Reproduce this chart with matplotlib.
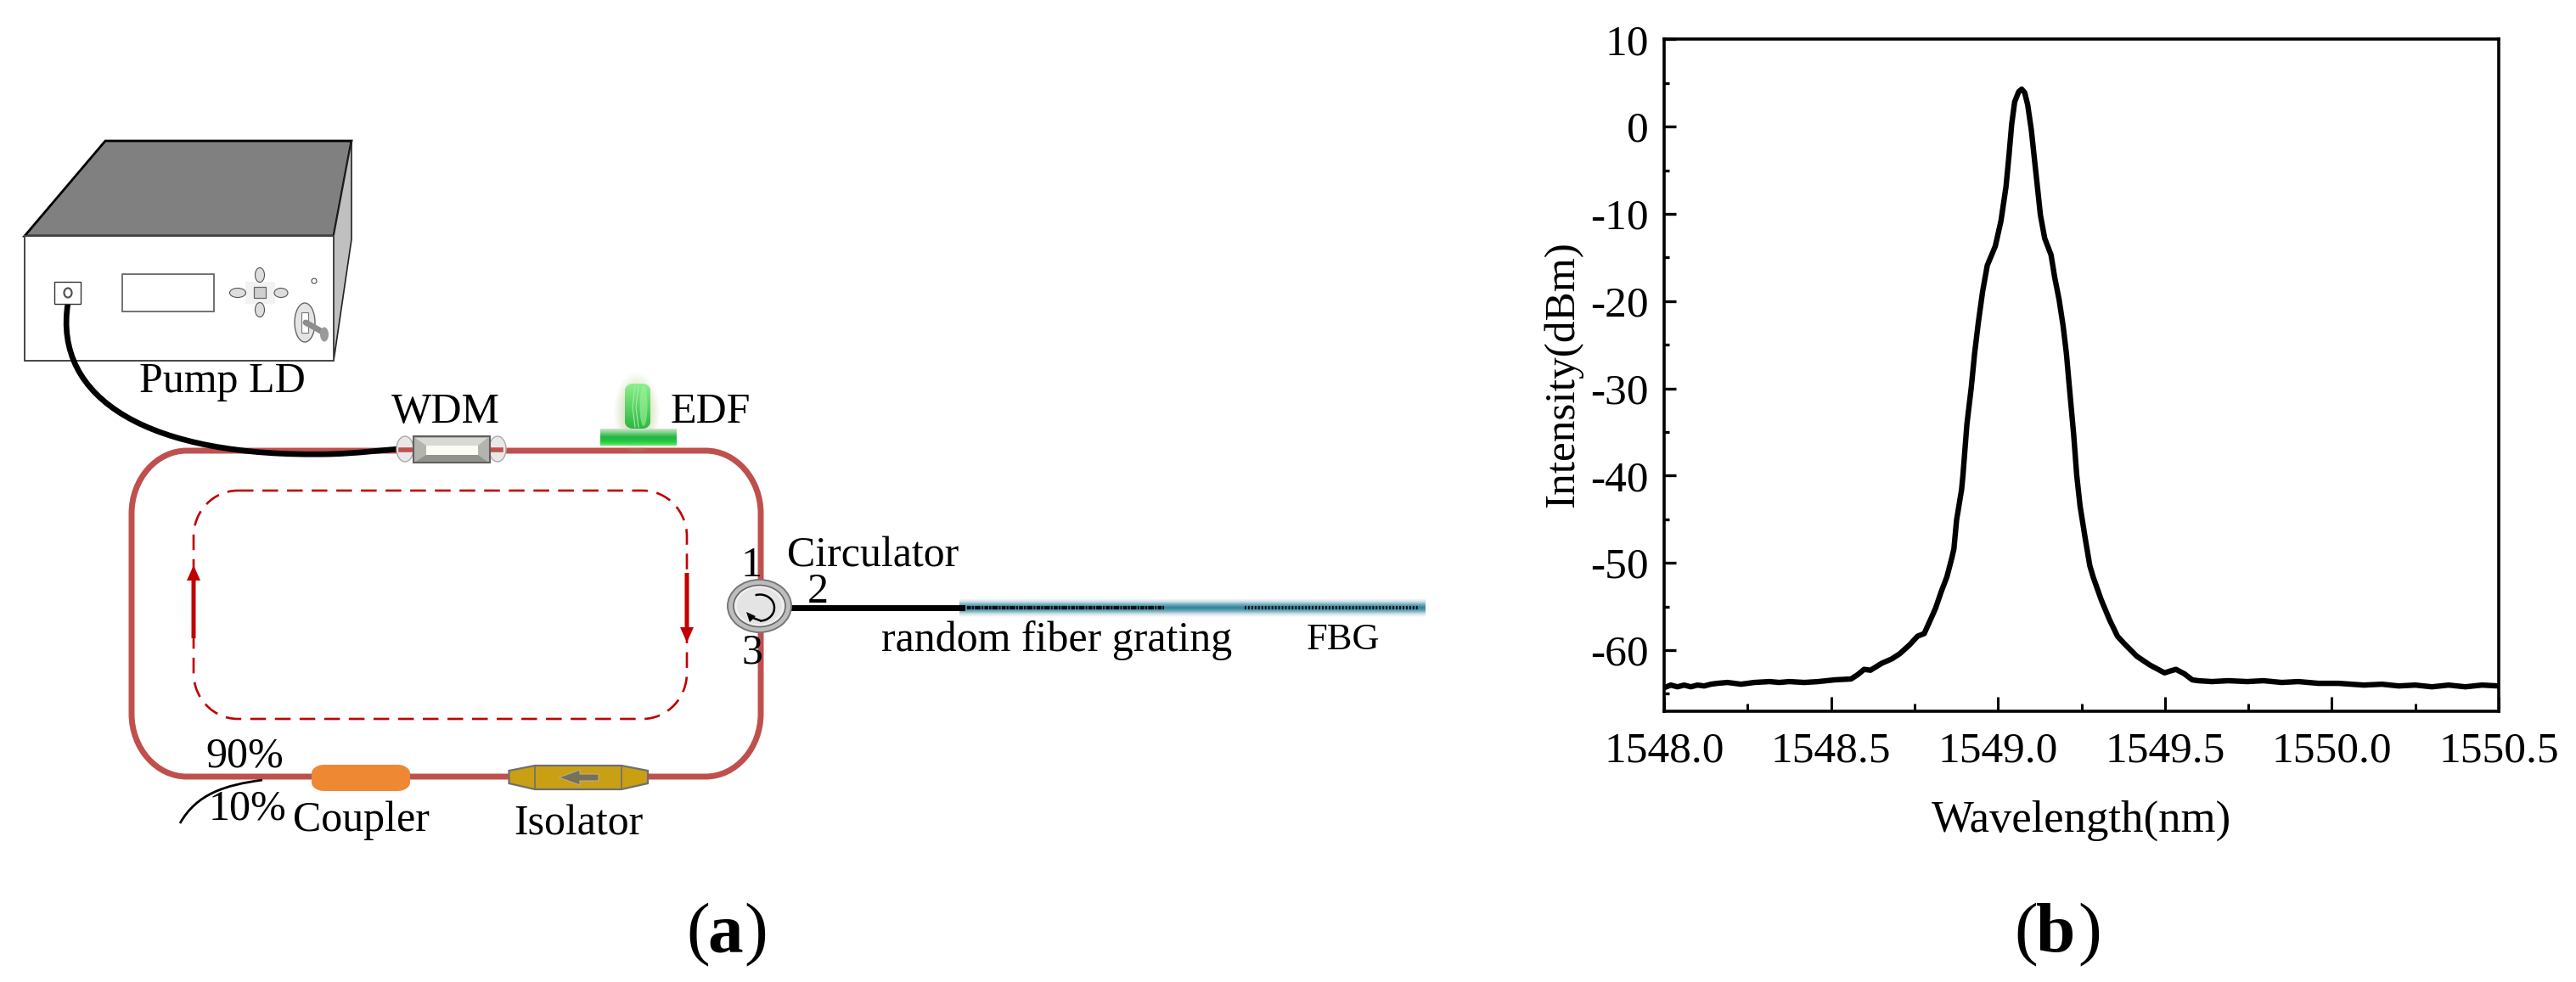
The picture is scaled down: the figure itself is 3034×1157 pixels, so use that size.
import numpy as np
import matplotlib
matplotlib.use("Agg")
import matplotlib.pyplot as plt
import matplotlib.patches as patches
from matplotlib.path import Path
from matplotlib.colors import LinearSegmentedColormap, to_rgb

plt.rcParams['font.family'] = ['Liberation Serif', 'DejaVu Serif']
plt.rcParams['axes.unicode_minus'] = False

W, H = 3034, 1157

# spectrum
wavelength = [1548.00, 1548.02, 1548.04, 1548.06, 1548.08, 1548.10, 1548.12, 1548.14, 1548.16, 1548.19,
              1548.23, 1548.27, 1548.316, 1548.345, 1548.375, 1548.42, 1548.462, 1548.511, 1548.56,
              1548.58, 1548.599, 1548.618, 1548.652, 1548.682, 1548.706, 1548.735, 1548.759, 1548.779,
              1548.798, 1548.813, 1548.83, 1548.847, 1548.862, 1548.868, 1548.876, 1548.891, 1548.895,
              1548.907, 1548.92, 1548.93, 1548.941, 1548.954, 1548.968, 1548.992, 1549.009, 1549.024,
              1549.033, 1549.041, 1549.05, 1549.062, 1549.071, 1549.08, 1549.089, 1549.10, 1549.11,
              1549.119, 1549.127, 1549.14, 1549.159, 1549.17, 1549.183, 1549.195, 1549.205, 1549.214,
              1549.227, 1549.236, 1549.246, 1549.261, 1549.275, 1549.285, 1549.309, 1549.334, 1549.358,
              1549.377, 1549.416, 1549.455, 1549.499, 1549.515, 1549.533, 1549.558, 1549.582, 1549.60,
              1549.641, 1549.69, 1549.747, 1549.795, 1549.85, 1549.90, 1549.96, 1550.02, 1550.096,
              1550.15, 1550.20, 1550.25, 1550.30, 1550.35, 1550.40, 1550.45, 1550.50]
intensity = [-64.3, -64.0, -64.2, -64.0, -64.2, -64.0, -64.1, -63.9, -63.8, -63.7,
             -63.9, -63.7, -63.6, -63.7, -63.6, -63.7, -63.6, -63.4, -63.3,
             -62.8, -62.2, -62.3, -61.5, -61.0, -60.4, -59.4, -58.4, -58.1,
             -56.5, -55.2, -53.3, -51.6, -49.4, -48.4, -45.1, -41.6, -40.0,
             -34.1, -29.9, -26.0, -22.5, -18.9, -15.9, -13.7, -10.8, -6.9,
             -3.3, 0.24, 2.84, 4.0, 4.3, 3.9, 2.5, -0.4, -4.0,
             -7.2, -10.1, -12.8, -14.7, -17.3, -19.8, -22.8, -26.0, -29.9,
             -35.4, -40.0, -43.5, -47.1, -50.3, -51.6, -54.2, -56.5, -58.4,
             -59.2, -60.7, -61.7, -62.6, -62.4, -62.2, -62.7, -63.4, -63.5,
             -63.6, -63.5, -63.6, -63.5, -63.7, -63.6, -63.8, -63.8, -64.0,
             -63.9, -64.1, -64.0, -64.2, -64.0, -64.2, -64.0, -64.1]

x_major = [1548.0, 1548.5, 1549.0, 1549.5, 1550.0, 1550.5]
x_labels = ['1548.0', '1548.5', '1549.0', '1549.5', '1550.0', '1550.5']
x_minor = [1548.25, 1548.75, 1549.25, 1549.75, 1550.25]
y_major = [-60, -50, -40, -30, -20, -10, 0, 10]
y_minor = [-65, -55, -45, -35, -25, -15, -5, 5]

RING = '#c0504d'
FLOW = '#c00000'


def rounded_path(x0, y0, x1, y1, rx, ry, k=0.55):
    verts = [(x0 + rx, y0), (x1 - rx, y0),
             (x1 - rx + k * rx, y0), (x1, y0 + ry - k * ry), (x1, y0 + ry),
             (x1, y1 - ry),
             (x1, y1 - ry + k * ry), (x1 - rx + k * rx, y1), (x1 - rx, y1),
             (x0 + rx, y1),
             (x0 + rx - k * rx, y1), (x0, y1 - ry + k * ry), (x0, y1 - ry),
             (x0, y0 + ry),
             (x0, y0 + ry - k * ry), (x0 + rx - k * rx, y0), (x0 + rx, y0)]
    codes = [Path.MOVETO, Path.LINETO,
             Path.CURVE4, Path.CURVE4, Path.CURVE4,
             Path.LINETO,
             Path.CURVE4, Path.CURVE4, Path.CURVE4,
             Path.LINETO,
             Path.CURVE4, Path.CURVE4, Path.CURVE4,
             Path.LINETO,
             Path.CURVE4, Path.CURVE4, Path.CURVE4]
    return Path(verts, codes)


def gradient(ax, x0, x1, y0, y1, colors, vertical=True, z=3, clip=None):
    cm = LinearSegmentedColormap.from_list('g', colors)
    g = np.linspace(0, 1, 64)
    g = g[:, None] if vertical else g[None, :]
    im = ax.imshow(g, extent=(x0, x1, y1, y0), cmap=cm, aspect='auto', zorder=z,
                   interpolation='bilinear', vmin=0, vmax=1)
    if clip is not None:
        im.set_clip_path(clip)
    return im


def glow(ax, cx, cy, rx, ry, color, z):
    xx, yy = np.meshgrid(np.linspace(-1, 1, 80), np.linspace(-1, 1, 80))
    a = np.clip(1 - (xx ** 2 + yy ** 2), 0, 1) ** 1.2
    rgba = np.zeros((80, 80, 4))
    rgba[..., :3] = to_rgb(color)
    rgba[..., 3] = a * 0.75
    ax.imshow(rgba, extent=(cx - rx, cx + rx, cy + ry, cy - ry), aspect='auto', zorder=z)


def flow_arrow(ax, x, tail, tip):
    sign = 1 if tip > tail else -1
    head = tip - sign * 18
    ax.add_patch(patches.Polygon([(x - 2.5, tail), (x + 2.5, tail), (x + 2.5, head), (x + 8, head), (x, tip),
                                  (x - 8, head), (x - 2.5, head)], fc=FLOW, ec='none', zorder=3))


def draw_box(ax):
    # pump laser diode housing
    ax.add_patch(patches.Polygon([(124, 166), (414, 166), (393, 278), (29, 278)], fc='#808080', ec='black', lw=2, zorder=2))
    ax.add_patch(patches.Polygon([(414, 166), (414, 282), (393, 425), (393, 278)], fc='#c0c0c0', ec='#222222', lw=1.2, zorder=2))
    ax.add_patch(patches.Rectangle((29, 278), 364, 147, fc='white', ec='#444444', lw=1.4, zorder=2))
    ax.add_patch(patches.Rectangle((64.5, 332), 30.5, 26, fc='white', ec='#333333', lw=1, zorder=3))
    ax.add_patch(patches.Ellipse((80, 345), 9, 11, fc='white', ec='#555555', lw=1.6, zorder=3))
    ax.add_patch(patches.Rectangle((144, 322.5), 108, 44.5, fc='white', ec='#666666', lw=1.3, zorder=3))
    ax.add_patch(patches.Rectangle((289, 332), 35.5, 26, fc='#f2f2f2', ec='none', zorder=3))
    ax.add_patch(patches.Rectangle((299, 338), 14, 13, fc='#cfcfcf', ec='#666666', lw=0.9, zorder=4))
    ax.add_patch(patches.Ellipse((306, 324), 11, 17, fc='#dddddd', ec='#555555', lw=0.8, zorder=4))
    ax.add_patch(patches.Ellipse((306, 365), 11, 17, fc='#dddddd', ec='#555555', lw=0.8, zorder=4))
    ax.add_patch(patches.Ellipse((280, 345), 19, 11, fc='#dddddd', ec='#555555', lw=0.8, zorder=4))
    ax.add_patch(patches.Ellipse((331, 345), 16, 11, fc='#dddddd', ec='#555555', lw=0.8, zorder=4))
    ax.add_patch(patches.Circle((370, 331), 3, fc='white', ec='#444444', lw=0.8, zorder=3))
    # power key
    ax.add_patch(patches.Ellipse((359, 380), 24, 46, fc='#e4e4e4', ec='#666666', lw=1, zorder=3))
    ax.add_patch(patches.Rectangle((355, 368), 8, 24, fc='white', ec='#777777', lw=0.8, zorder=4))
    ax.plot([360, 378], [380, 390], color='#8d8d8d', lw=5, solid_capstyle='round', zorder=5)
    ax.add_patch(patches.Ellipse((382, 394), 10, 17, fc='#9a9a9a', ec='none', zorder=5))


def draw_ring(ax):
    ax.add_patch(patches.PathPatch(rounded_path(155, 531, 896, 915, 65, 74), fc='none', ec=RING, lw=5, zorder=1))
    ax.add_patch(patches.PathPatch(rounded_path(228, 578, 809, 847, 52, 54), fc='none', ec=FLOW, lw=1.9,
                                   ls=(0, (7.0, 4.0)), zorder=1))
    flow_arrow(ax, 228, 752, 666)
    flow_arrow(ax, 809, 675, 757)
    # pump fibre from the LD to the WDM
    pump = Path([(80, 357), (62, 470), (175, 540), (390, 535), (420, 534), (445, 531), (469, 529)],
                [Path.MOVETO, Path.CURVE4, Path.CURVE4, Path.CURVE4, Path.CURVE4, Path.CURVE4, Path.CURVE4])
    ax.add_patch(patches.PathPatch(pump, fc='none', ec='black', lw=4.8, capstyle='round', zorder=2))
    # 10% output
    out = Path([(212, 970), (232, 935), (265, 925), (309, 919)], [Path.MOVETO, Path.CURVE4, Path.CURVE4, Path.CURVE4])
    ax.add_patch(patches.PathPatch(out, fc='none', ec='black', lw=2, zorder=2))


def draw_wdm(ax):
    ax.add_patch(patches.Ellipse((477, 529), 20, 30, fc='#e8e8e8', ec='#aaaaaa', lw=1, zorder=3))
    ax.add_patch(patches.Ellipse((586, 529), 20, 30, fc='#e8e8e8', ec='#aaaaaa', lw=1, zorder=3))
    ax.plot([472, 486], [530, 530], color=RING, lw=4, zorder=3)
    ax.plot([577, 590], [530, 530], color=RING, lw=4, zorder=3)
    ax.add_patch(patches.Rectangle((487, 514), 90, 31, fc='#b4b4ae', ec='#5f5f5f', lw=1.5, zorder=3))
    ax.add_patch(patches.Polygon([(489, 516), (574, 516), (563, 525), (502, 525)], fc='#d9d9d3', ec='none', zorder=4))
    ax.add_patch(patches.Rectangle((502, 525), 61, 11, fc='#fbfbf6', ec='none', zorder=4))
    ax.add_patch(patches.Polygon([(489, 544), (574, 544), (563, 536), (502, 536)], fc='#92928c', ec='none', zorder=4))


def draw_edf(ax):
    glow(ax, 750, 487, 28, 50, '#b9cf8c', 2)
    gradient(ax, 707, 797, 505, 525, ['#d5dfd2', '#74cf7f', '#1fb63f', '#22c845', '#66e866'], z=3)
    disc = patches.PathPatch(rounded_path(736, 452, 766, 505, 9, 8), fc='none', ec='none', zorder=3)
    ax.add_patch(disc)
    gradient(ax, 736, 766, 452, 505, ['#8cf08c', '#2eb742'], z=3, clip=disc)
    ax.plot([748, 745, 748], [455, 480, 503], color='#a5eda5', lw=0.8, zorder=4)
    ax.plot([752, 749, 752], [455, 480, 503], color='#a5eda5', lw=0.8, zorder=4)
    ax.add_patch(patches.Ellipse((758, 478), 9, 48, fc='#9af49a', ec='none', alpha=0.6, zorder=4))


def draw_coupler_isolator(ax):
    ax.add_patch(patches.PathPatch(rounded_path(367, 901, 483, 932, 15, 10), fc='#ee8833', ec='none', zorder=3))
    ax.add_patch(patches.Polygon([(599.5, 908), (630, 902), (732, 902), (763, 908), (763, 923), (732, 930), (630, 930), (599.5, 923)],
                                 fc='#c99f14', ec='#6f6f6f', lw=1.6, zorder=3))
    ax.plot([630, 630], [902, 930], color='#6f6f6f', lw=1.2, zorder=4)
    ax.plot([732, 732], [902, 930], color='#6f6f6f', lw=1.2, zorder=4)
    ax.add_patch(patches.Polygon([(658, 916), (683, 907), (683, 912), (705, 912), (705, 920), (683, 920), (683, 925)],
                                 fc='#77705a', ec='#b9ad80', lw=0.9, zorder=4))


def draw_circulator(ax):
    ax.plot([929, 1133], [716, 716], color='black', lw=5, zorder=4)
    ax.add_patch(patches.Ellipse((894.5, 714), 75, 62, fc='#bdbdbd', ec='#777777', lw=1.4, zorder=5))
    ax.add_patch(patches.Ellipse((894.5, 714), 61, 49, fc='#f0f0f0', ec='#666666', lw=1.2, zorder=5))
    ax.add_patch(patches.Ellipse((894.5, 714), 53, 43, fc='#e4e4e4', ec='none', zorder=5))
    ax.add_patch(patches.Arc((895, 716), 34, 31, theta1=-110, theta2=90, ec='black', lw=1.8, zorder=6))
    ax.add_patch(patches.Polygon([(879, 721), (890, 726), (883, 733)], fc='black', ec='none', zorder=6))
    ax.plot([884, 895], [727, 731], color='black', lw=1.8, zorder=6)


def draw_gratings(ax):
    gradient(ax, 1130, 1679, 705, 727, ['#ffffff', '#cfe1e6', '#6aa9bb', '#2f8096', '#6aa9bb', '#cfe1e6', '#ffffff'], z=2)
    ax.plot([1139, 1371], [716, 716], color='#111111', lw=3, ls=(0, (1.1, 0.25, 0.6, 0.25, 1.6, 0.3, 0.5, 0.3)), zorder=3)
    ax.plot([1466, 1671], [716, 716], color='#111111', lw=3, ls=(0, (0.45, 0.5)), zorder=3)


def label(ax, x, y, s, size=36, **kw):
    ax.text(x, y, s, fontsize=size, ha='left', va='baseline', color='black', zorder=8, **kw)


fig = plt.figure(figsize=(W / 100, H / 100), dpi=100, facecolor='white')

# panel (a) is drawn in pixel coordinates on a full-figure axes
sk = fig.add_axes([0, 0, 1, 1])
draw_box(sk)
draw_ring(sk)
draw_wdm(sk)
draw_edf(sk)
draw_coupler_isolator(sk)
draw_gratings(sk)
draw_circulator(sk)
sk.set_xlim(0, W)
sk.set_ylim(H, 0)
sk.axis('off')

label(sk, 164, 462, 'Pump LD')
label(sk, 461, 498, 'WDM')
label(sk, 790, 498, 'EDF')
label(sk, 927, 668, 'Circulator')
label(sk, 873, 679, '1')
label(sk, 951, 710, '2')
label(sk, 874, 781, '3')
label(sk, 1038, 767, 'random fiber grating')
label(sk, 1539, 765, 'FBG', size=32)
label(sk, 242, 903, '90%')
label(sk, 246, 965, '10%')
label(sk, 345, 979, 'Coupler')
label(sk, 605, 983, 'Isolator')

# panel letters: bold letter between regular brackets
for x0, x1, x2, name in [(836, 833, 876, 'a'), (2400, 2398, 2447, 'b')]:
    sk.text(x0, 1121, '(', fontsize=60, ha='right', va='baseline')
    sk.text(x1, 1121, name, fontsize=60, ha='left', va='baseline', fontweight='bold')
    sk.text(x2, 1121, ')', fontsize=60, ha='left', va='baseline')

# panel (b)
left, right, top, bottom = 1960, 2943, 46.4, 838
ax = fig.add_axes([left / W, 1 - bottom / H, (right - left) / W, (bottom - top) / H])
ax.patch.set_alpha(0)
ax.plot(wavelength, intensity, color='black', lw=4.6, solid_joinstyle='round')
ax.set_xlim(1548.0, 1550.5)
ax.set_ylim(-67, 10)
ax.set_xticks(x_major)
ax.set_xticklabels(x_labels)
ax.set_xticks(x_minor, minor=True)
ax.set_yticks(y_major)
ax.set_yticks(y_minor, minor=True)
ax.tick_params(axis='x', which='major', direction='in', length=12, width=2.2, labelsize=37, pad=17)
ax.tick_params(axis='x', which='minor', direction='in', length=6.5, width=2.2)
ax.tick_params(axis='y', which='major', direction='in', length=10, width=2.4, labelsize=37, pad=13)
ax.tick_params(axis='y', which='minor', direction='in', length=4.5, width=2.4)
for s in ax.spines.values():
    s.set_linewidth(2.6)
ax.set_xlabel('Wavelength(nm)', fontsize=38, va='baseline')
ax.xaxis.set_label_coords(0.5, -(980 - bottom) / (bottom - top))
ax.set_ylabel('Intensity(dBm)', fontsize=37, va='baseline', rotation_mode='anchor')
ax.yaxis.set_label_coords((1853 - left) / (right - left), (bottom - 441) / (bottom - top))

fig.savefig('out.png', dpi=100)
